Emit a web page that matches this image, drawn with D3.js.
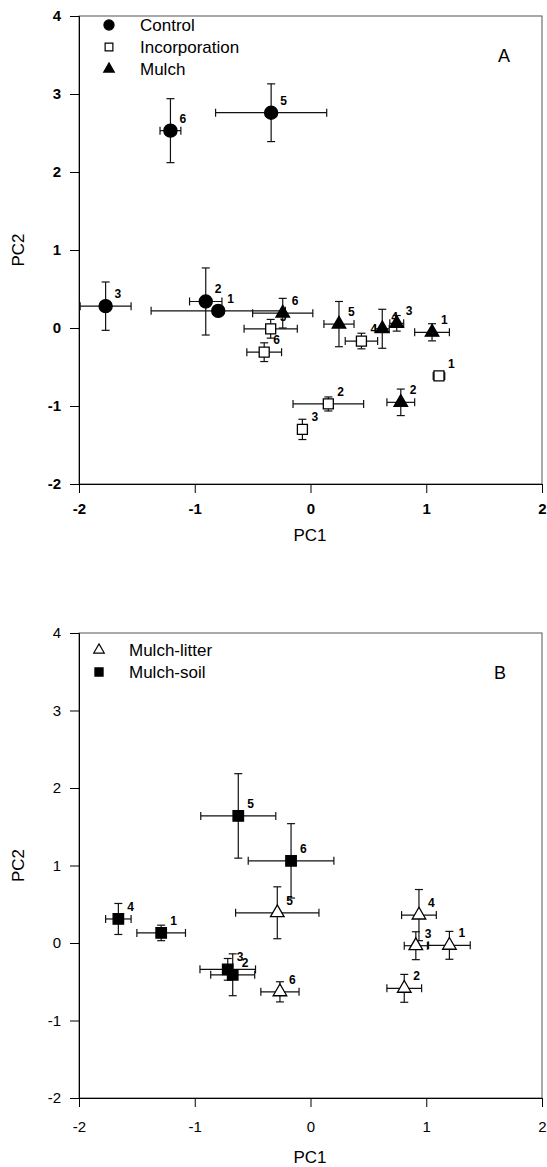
<!DOCTYPE html>
<html>
<head>
<meta charset="utf-8">
<script src="https://cdn.jsdelivr.net/npm/d3@7"></script>
<style>
  body { margin: 0; background: #fff; }
  svg { display: block; font-family: "Liberation Sans", Arial, sans-serif; }
</style>
</head>
<body>
<svg id="chart" width="547" height="1167"></svg>
<script>
// panel A series
var controlId = [6, 5, 3, 2, 1]
var controlX = [-1.21, -0.34, -1.77, -0.905, -0.797]
var controlY = [2.53, 2.76, 0.28, 0.34, 0.22]
var controlXErr = [0.09, 0.48, 0.22, 0.14, 0.58]
var controlYErr = [0.41, 0.37, 0.31, 0.43, 0.05]

var incorpId = [1, 2, 3, 4, 5, 6]
var incorpX = [1.11, 0.154, -0.07, 0.44, -0.344, -0.40]
var incorpY = [-0.615, -0.974, -1.30, -0.167, -0.01, -0.31]
var incorpXErr = [0.05, 0.305, 0.04, 0.14, 0.23, 0.15]
var incorpYErr = [0.05, 0.09, 0.13, 0.10, 0.12, 0.12]

var mulchId = [1, 2, 3, 4, 5, 6]
var mulchX = [1.05, 0.78, 0.745, 0.62, 0.246, -0.24]
var mulchY = [-0.055, -0.953, 0.06, -0.01, 0.05, 0.19]
var mulchXErr = [0.15, 0.12, 0.06, 0.06, 0.13, 0.26]
var mulchYErr = [0.11, 0.17, 0.10, 0.25, 0.29, 0.19]

// panel B series
var litterId = [1, 2, 3, 4, 5, 6]
var litterX = [1.20, 0.81, 0.91, 0.937, -0.287, -0.264]
var litterY = [-0.03, -0.585, -0.035, 0.36, 0.39, -0.63]
var litterXErr = [0.18, 0.15, 0.10, 0.15, 0.36, 0.165]
var litterYErr = [0.18, 0.18, 0.18, 0.33, 0.335, 0.13]

var soilId = [1, 2, 3, 4, 5, 6]
var soilX = [-1.29, -0.672, -0.715, -1.66, -0.624, -0.168]
var soilY = [0.13, -0.41, -0.34, 0.31, 1.64, 1.06]
var soilXErr = [0.21, 0.19, 0.24, 0.11, 0.324, 0.37]
var soilYErr = [0.10, 0.27, 0.14, 0.20, 0.545, 0.48]

var xTicks = [-2, -1, 0, 1, 2]
var yTicks = [-2, -1, 0, 1, 2, 3, 4]

function rows(id, x, y, xe, ye) {
  return id.map(function(d, i) { return {id: d, x: x[i], y: y[i], xe: xe[i], ye: ye[i]} })
}

var svg = d3.select("#chart")

function panel(cfg) {
  var x = d3.scaleLinear().domain([-2, 2]).range([79, 542])
  var y = d3.scaleLinear().domain([-2, 4]).range([cfg.bottom, cfg.top])
  var g = svg.append("g")

  // frame
  g.append("rect").attr("x", 79).attr("y", cfg.top)
    .attr("width", 463).attr("height", cfg.bottom - cfg.top)
    .attr("fill", "none").attr("stroke", "#555").attr("stroke-width", 1)

  var ax = g.append("g").attr("transform", "translate(0," + cfg.bottom + ")")
    .call(d3.axisBottom(x).tickValues(xTicks).tickSize(9).tickPadding(cfg.xPad).tickFormat(d3.format("d")))
  var ay = g.append("g").attr("transform", "translate(79,0)")
    .call(d3.axisLeft(y).tickValues(yTicks).tickSize(9).tickPadding(9).tickFormat(d3.format("d")))
  ;[ax, ay].forEach(function(a) {
    a.select(".domain").attr("stroke", "#000")
    a.selectAll("line").attr("stroke", "#000")
    a.selectAll("text").attr("font-size", 15).attr("fill", "#000")
      .attr("font-family", "Liberation Sans, Arial, sans-serif")
      .attr("font-weight", cfg.bold ? "bold" : "normal")
  })
  ax.selectAll("text").text(function(d) { return d < 0 ? "-" + Math.abs(d) : d })
  ay.selectAll("text").text(function(d) { return d < 0 ? "-" + Math.abs(d) : d })

  g.append("text").attr("x", 310).attr("y", cfg.bottom + cfg.titlePad)
    .attr("text-anchor", "middle").attr("font-size", 17).text("PC1")
  g.append("text").attr("transform", "translate(24," + (cfg.top + cfg.bottom) / 2 + ") rotate(-90)")
    .attr("text-anchor", "middle").attr("font-size", 17).text("PC2")
  g.append("text").attr("x", cfg.tagX).attr("y", cfg.tagY)
    .attr("text-anchor", "middle").attr("font-size", 18).text(cfg.tag)

  cfg.series.forEach(function(s) {
    var sg = g.append("g")
    var eb = sg.selectAll(".eb").data(s.data).enter().append("g")
    eb.append("line").attr("x1", function(d) { return x(d.x - d.xe) }).attr("x2", function(d) { return x(d.x + d.xe) })
      .attr("y1", function(d) { return y(d.y) }).attr("y2", function(d) { return y(d.y) })
    eb.append("line").attr("x1", function(d) { return x(d.x) }).attr("x2", function(d) { return x(d.x) })
      .attr("y1", function(d) { return y(d.y - d.ye) }).attr("y2", function(d) { return y(d.y + d.ye) })
    // caps
    ;[-1, 1].forEach(function(sgn) {
      eb.append("line").attr("x1", function(d) { return x(d.x + sgn * d.xe) }).attr("x2", function(d) { return x(d.x + sgn * d.xe) })
        .attr("y1", function(d) { return y(d.y) - 4 }).attr("y2", function(d) { return y(d.y) + 4 })
      eb.append("line").attr("x1", function(d) { return x(d.x) - 4 }).attr("x2", function(d) { return x(d.x) + 4 })
        .attr("y1", function(d) { return y(d.y + sgn * d.ye) }).attr("y2", function(d) { return y(d.y + sgn * d.ye) })
    })
    eb.selectAll("line").attr("stroke", "#111").attr("stroke-width", 1.2)
  })

  cfg.series.forEach(function(s) {
    var sym = d3.symbol().type(s.type).size(s.size)
    g.selectAll(null).data(s.data).enter().append("path")
      .attr("d", sym)
      .attr("transform", function(d) { return "translate(" + x(d.x) + "," + y(d.y) + ")" })
      .attr("fill", s.fill).attr("stroke", "#000").attr("stroke-width", 1.3)
    g.selectAll(null).data(s.data).enter().append("text")
      .attr("x", function(d) { return x(d.x) + 9 }).attr("y", function(d) { return y(d.y) - 8 })
      .attr("font-size", 12).attr("font-weight", "bold").text(function(d) { return d.id })
  })

  // legend
  cfg.series.forEach(function(s, i) {
    var ly = cfg.legY + i * cfg.legStep
    g.append("path").attr("d", d3.symbol().type(s.type).size(s.size * 0.6)())
      .attr("transform", "translate(" + cfg.legX + "," + ly + ")")
      .attr("fill", s.fill).attr("stroke", "#000").attr("stroke-width", 1.2)
    g.append("text").attr("x", cfg.legX + cfg.legGap).attr("y", ly + 6).attr("font-size", 17).text(s.name)
  })
}

panel({
  top: 16, bottom: 484, xPad: 10, titlePad: 57, bold: true,
  tag: "A", tagX: 504, tagY: 62,
  legX: 109, legY: 25, legStep: 22, legGap: 31,
  series: [
    {name: "Control", type: d3.symbolCircle, size: 135, fill: "#000", data: rows(controlId, controlX, controlY, controlXErr, controlYErr)},
    {name: "Incorporation", type: d3.symbolSquare, size: 100, fill: "#fff", data: rows(incorpId, incorpX, incorpY, incorpXErr, incorpYErr)},
    {name: "Mulch", type: d3.symbolTriangle, size: 80, fill: "#000", data: rows(mulchId, mulchX, mulchY, mulchXErr, mulchYErr)}
  ]
})

panel({
  top: 633, bottom: 1098, xPad: 14, titlePad: 65, bold: false,
  tag: "B", tagX: 500, tagY: 679,
  legX: 99, legY: 650, legStep: 22, legGap: 30,
  series: [
    {name: "Mulch-litter", type: d3.symbolTriangle, size: 80, fill: "#fff", data: rows(litterId, litterX, litterY, litterXErr, litterYErr)},
    {name: "Mulch-soil", type: d3.symbolSquare, size: 110, fill: "#000", data: rows(soilId, soilX, soilY, soilXErr, soilYErr)}
  ]
})
</script>
</body>
</html>
